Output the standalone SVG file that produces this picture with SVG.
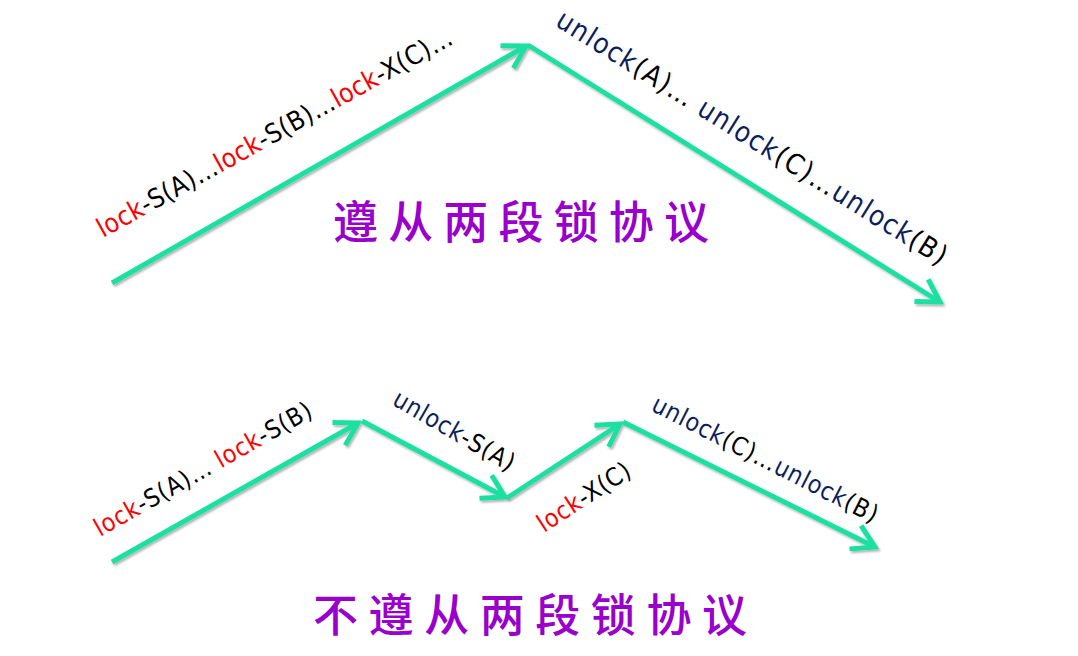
<svg xmlns="http://www.w3.org/2000/svg" width="1078" height="656" viewBox="0 0 1078 656">
<style>
.arrow{fill:none;stroke:#1fe0a2;stroke-width:5;marker-end:url(#chev);filter:url(#sh)}
.lbl{font-family:"DejaVu Sans Condensed","DejaVu Sans","Liberation Sans",sans-serif;fill:#000}
.red{fill:#ff0000}
.navy{fill:#0c1f5c}
.title{font-family:"Noto Sans CJK SC",sans-serif;fill:#9900cc;font-size:45px;font-weight:500}
</style>
<defs>
<filter id="sh" x="-10%" y="-10%" width="120%" height="130%">
<feDropShadow dx="1.5" dy="2" stdDeviation="1" flood-color="#000" flood-opacity="0.3"/>
</filter>
<marker id="chev" markerUnits="userSpaceOnUse" viewBox="-28 -18 32 36" markerWidth="32" markerHeight="36" refX="0" refY="0" orient="auto">
<path d="M-22,-13 L0,0 L-22,13" fill="none" stroke="#1fe0a2" stroke-width="5" stroke-linejoin="miter"/>
</marker>
</defs>
<rect width="1078" height="656" fill="#fff"/>
<g id="connectors">
<line class="arrow" x1="112" y1="283" x2="526" y2="46"/>
<line class="arrow" x1="528" y1="45" x2="940" y2="302"/>
<line class="arrow" x1="112" y1="562" x2="358" y2="423"/>
<line class="arrow" x1="362" y1="421" x2="505" y2="497"/>
<line class="arrow" x1="507" y1="498" x2="620" y2="424"/>
<line class="arrow" x1="623" y1="422" x2="875" y2="547"/>
</g>
<g id="label-top-left">
<text class="lbl" font-size="26.5" transform="translate(103,238) rotate(-29)" textLength="402" lengthAdjust="spacing"><tspan class="red">lock</tspan>-S(A)…<tspan class="red">lock</tspan>-S(B)…<tspan class="red">lock</tspan>-X(C)…</text>
</g>
<g id="label-top-right">
<text class="lbl" font-size="28" transform="translate(554,25) rotate(32)" textLength="455" lengthAdjust="spacing"><tspan class="navy">unlock</tspan>(A)… <tspan class="navy">unlock</tspan>(C)…<tspan class="navy">unlock</tspan>(B)</text>
</g>
<g id="title-top">
<text class="title" x="333" y="239" textLength="376" lengthAdjust="spacing">遵从两段锁协议</text>
</g>
<g id="label-b1">
<text class="lbl" font-size="25" transform="translate(100,537) rotate(-29.5)" textLength="246" lengthAdjust="spacing"><tspan class="red">lock</tspan>-S(A)… <tspan class="red">lock</tspan>-S(B)</text>
</g>
<g id="label-b2">
<text class="lbl" font-size="25" transform="translate(391,404) rotate(30)" textLength="136" lengthAdjust="spacing"><tspan class="navy">unlock</tspan>-S(A)</text>
</g>
<g id="label-b3">
<text class="lbl" font-size="25" transform="translate(544,533) rotate(-33)" textLength="106" lengthAdjust="spacing"><tspan class="red">lock</tspan>-X(C)</text>
</g>
<g id="label-b4">
<text class="lbl" font-size="25" transform="translate(650,410) rotate(27)" textLength="250" lengthAdjust="spacing"><tspan class="navy">unlock</tspan>(C)…<tspan class="navy">unlock</tspan>(B)</text>
</g>
<g id="title-bottom">
<text class="title" x="313" y="632" textLength="434" lengthAdjust="spacing">不遵从两段锁协议</text>
</g>
</svg>
